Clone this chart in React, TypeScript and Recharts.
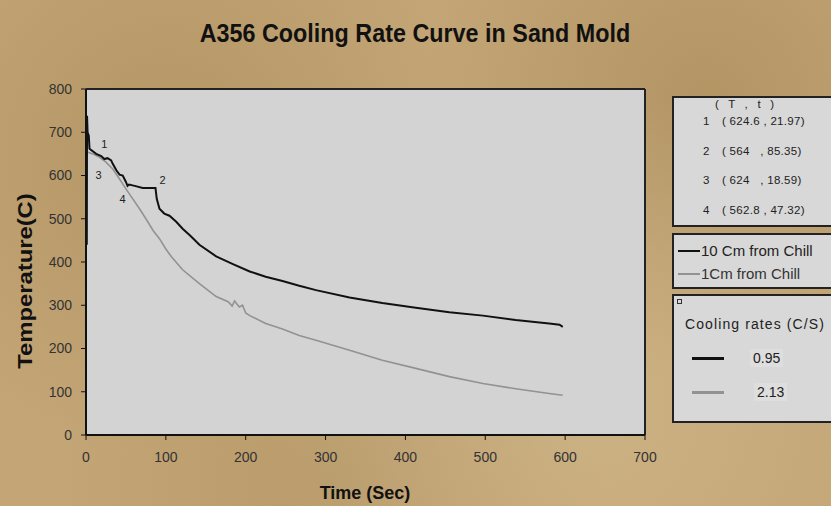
import React from "react";
import {
  LineChart,
  Line,
  XAxis,
  YAxis,
  CartesianGrid,
  ReferenceLine,
  ReferenceDot,
} from "recharts";

// 10 Cm from chill (black)
const tenCmTime = [
  1, 1.3, 2, 3.5, 4.4, 12.7, 19, 23, 27, 31.5, 33.5, 38, 42, 46, 50, 52, 54, 61, 71, 87, 88.6, 92, 98,
  104.5, 113, 121, 130, 142, 163, 184, 205, 225, 246, 267, 288, 330, 371, 413, 455, 497, 538, 580, 593, 597,
];
const tenCmTemp = [
  440, 738, 700, 692, 662, 650, 645, 638, 640, 635, 627, 612, 602, 600, 585, 576, 579, 576, 571, 571, 546, 523, 512,
  507, 493, 477, 462, 440, 413, 395, 378, 366, 356, 345, 335, 318, 305, 294, 284, 276, 266, 258, 255, 250,
];

// 1 Cm from chill (grey)
const oneCmTime = [
  0.5, 2.3, 8.5, 17, 25, 33.5, 42, 50, 58.6, 67, 75, 84, 92, 100, 107, 121, 142, 163, 178, 183, 186, 192, 196,
  200, 205, 225, 246, 267, 288, 330, 371, 413, 455, 497, 538, 580, 597,
];
const oneCmTemp = [
  652, 654, 650, 642, 631, 615, 592, 569, 546, 523, 500, 473, 454, 430, 412, 382, 350, 320, 308, 298, 310, 296, 300,
  282, 276, 258, 245, 230, 219, 196, 173, 154, 135, 119, 107, 96, 92,
];

const xTicks = [0, 100, 200, 300, 400, 500, 600, 700];
const yTicks = [0, 100, 200, 300, 400, 500, 600, 700, 800];

// numbered points on the curves
const markNames = ["1", "2", "3", "4"];
const markTime = [23, 96, 15.6, 45.7];
const markTemp = [673, 590, 602, 546];

// (T , t) table
const rowIds = ["1", "2", "3", "4"];
const rowT = ["624.6", "564  ", "624  ", "562.8"];
const rowt = ["21.97", "85.35", "18.59", "47.32"];

const seriesNames = ["10 Cm from Chill", "1Cm from Chill"];
const coolingRates = ["0.95", "2.13"];
const seriesColors = ["#111111", "#929292"];

const tenCm = tenCmTime.map((t, i) => ({ time: t, temp: tenCmTemp[i] }));
const oneCm = oneCmTime.map((t, i) => ({ time: t, temp: oneCmTemp[i] }));

const font = "'Liberation Sans', Arial, sans-serif";

const sand =
  "radial-gradient(circle at 20% 30%, rgba(150,120,70,0.35), transparent 40%)," +
  "radial-gradient(circle at 70% 80%, rgba(220,200,160,0.35), transparent 45%)," +
  "radial-gradient(circle at 85% 20%, rgba(140,110,60,0.3), transparent 35%)," +
  "radial-gradient(circle at 40% 95%, rgba(160,130,80,0.3), transparent 40%)," +
  "#c4a676";

const box: React.CSSProperties = {
  position: "absolute",
  left: 672,
  width: 170,
  background: "#d8d8d8",
  border: "2px solid #222",
  boxSizing: "border-box",
  fontFamily: font,
  color: "#222",
};

export default function App() {
  return (
    <div
      style={{
        position: "fixed",
        left: 0,
        top: 0,
        width: 831,
        height: 506,
        background: sand,
        overflow: "hidden",
        fontFamily: font,
      }}
    >
      <div
        style={{
          position: "absolute",
          left: 415,
          top: 34,
          transform: "translate(-50%, -50%) scale(1.015, 1.12)",
          fontSize: 23,
          fontWeight: "bold",
          whiteSpace: "nowrap",
          color: "#111",
        }}
      >
        A356 Cooling Rate Curve in Sand Mold
      </div>
      <div
        style={{
          position: "absolute",
          left: 25,
          top: 281,
          transform: "translate(-50%, -50%) rotate(-90deg) scaleX(1.19)",
          fontSize: 20,
          fontWeight: "bold",
          whiteSpace: "nowrap",
          color: "#111",
        }}
      >
        Temperature(C)
      </div>
      <div
        style={{
          position: "absolute",
          left: 365,
          top: 493,
          transform: "translate(-50%, -50%)",
          fontSize: 18,
          fontWeight: "bold",
          whiteSpace: "nowrap",
          color: "#111",
        }}
      >
        Time (Sec)
      </div>

      <div style={{ position: "absolute", left: 0, top: 0 }}>
        <LineChart width={831} height={506} margin={{ top: 89, right: 186, bottom: 41, left: 0 }}>
          <CartesianGrid fill="#d3d3d3" stroke="transparent" />
          <XAxis
            dataKey="time"
            type="number"
            domain={[0, 700]}
            ticks={xTicks}
            allowDataOverflow
            height={30}
            tickSize={5}
            tickMargin={12}
            axisLine={{ stroke: "#111", strokeWidth: 2 }}
            tickLine={{ stroke: "#111" }}
            tick={{ fill: "#333", fontSize: 14, fontFamily: font }}
          />
          <YAxis
            type="number"
            domain={[0, 800]}
            ticks={yTicks}
            width={86}
            tickSize={5}
            tickMargin={9}
            axisLine={{ stroke: "#111", strokeWidth: 2 }}
            tickLine={{ stroke: "#111" }}
            tick={{ fill: "#333", fontSize: 14, fontFamily: font }}
          />
          <ReferenceLine y={800} stroke="#222" strokeWidth={2} />
          <ReferenceLine x={700} stroke="#222" strokeWidth={2} />
          <Line
            data={oneCm}
            dataKey="temp"
            name={seriesNames[1]}
            type="linear"
            stroke={seriesColors[1]}
            strokeWidth={1.6}
            dot={false}
            isAnimationActive={false}
          />
          <Line
            data={tenCm}
            dataKey="temp"
            name={seriesNames[0]}
            type="linear"
            stroke={seriesColors[0]}
            strokeWidth={2}
            dot={false}
            isAnimationActive={false}
          />
          {markNames.map((n, i) => (
            <ReferenceDot
              key={n}
              x={markTime[i]}
              y={markTemp[i]}
              r={0}
              label={{ value: n, fill: "#222", fontSize: 11, fontFamily: font }}
            />
          ))}
        </LineChart>
      </div>

      {/* (T , t) table */}
      <div style={{ ...box, top: 96, height: 131, fontSize: 11.5 }}>
        <div style={{ position: "absolute", left: 41, top: 0, whiteSpace: "pre" }}>{"(   T   ,   t   )"}</div>
        {rowIds.map((id, i) => (
          <div key={id} style={{ position: "absolute", top: 17 + i * 29.5, left: 29, whiteSpace: "pre" }}>
            <span style={{ display: "inline-block", width: 19 }}>{id}</span>
            <span style={{ letterSpacing: 0.3 }}>{`( ${rowT[i]} , ${rowt[i]})`}</span>
          </div>
        ))}
      </div>

      {/* series legend */}
      <div style={{ ...box, top: 233, height: 56, fontSize: 15 }}>
        {seriesNames.map((n, i) => (
          <div key={n} style={{ position: "absolute", left: 4, top: 7 + i * 23, display: "flex", alignItems: "center" }}>
            <span style={{ display: "inline-block", width: 22, height: 2, background: seriesColors[i], marginRight: 1 }} />
            <span style={{ color: i === 0 ? "#222" : "#333" }}>{n}</span>
          </div>
        ))}
      </div>

      {/* cooling rates */}
      <div style={{ ...box, top: 294, height: 129, fontSize: 14 }}>
        <div style={{ position: "absolute", left: 3, top: 3, width: 3, height: 3, border: "1px solid #333" }} />
        <div style={{ position: "absolute", left: 11, top: 20, letterSpacing: 1.1 }}>Cooling rates (C/S)</div>
        {coolingRates.map((r, i) => (
          <div key={r} style={{ position: "absolute", left: 18, top: 53 + i * 34, display: "flex", alignItems: "center" }}>
            <span style={{ display: "inline-block", width: 32, height: 3, background: seriesColors[i] }} />
            <span style={{ marginLeft: 26 + i * 4, background: "#dedede", padding: "1px 3px" }}>{r}</span>
          </div>
        ))}
      </div>
    </div>
  );
}
